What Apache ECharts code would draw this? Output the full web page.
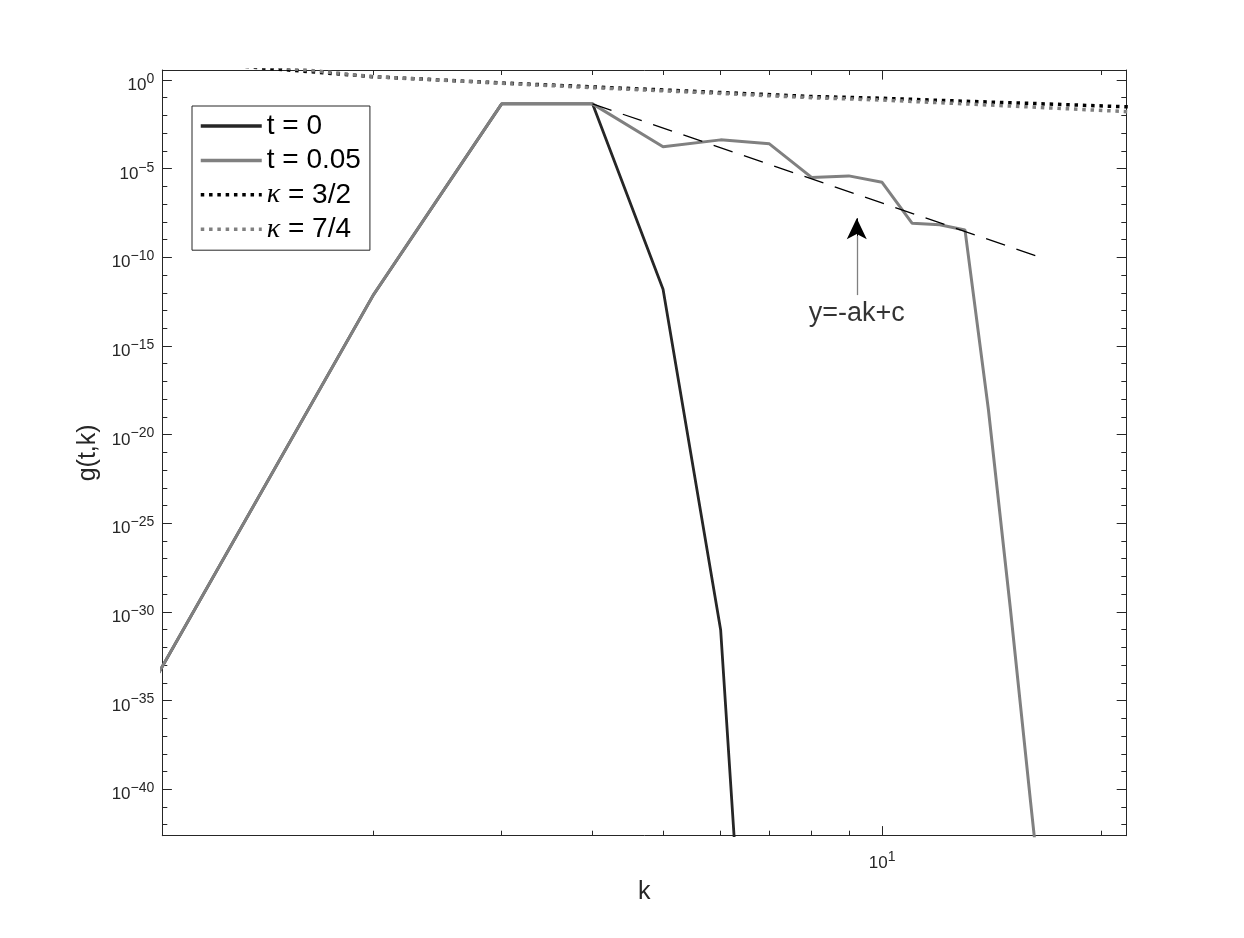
<!DOCTYPE html>
<html>
<head>
<meta charset="utf-8">
<title>g(t,k)</title>
<script src="https://cdn.jsdelivr.net/npm/echarts@6/dist/echarts.min.js"></script>
<style>
  html, body { margin: 0; padding: 0; background: #fff; }
  #chart { width: 1244px; height: 938px; }
</style>
</head>
<body>
<div id="chart"></div>
<script>
  // values
  const kInit = [1, 2, 3, 4, 5, 6, 7]
  const gInit = [1.4e-34, 7.8e-13, 4.5e-2, 4.5e-2, 1.6e-12, 9.5e-32, 6e-74]

  const kLater = [1, 2, 3, 4, 5, 6, 7, 8, 9, 10, 11, 12, 13, 14, 15, 16, 17]
  const gLater = [1.4e-34, 7.8e-13, 4.5e-2, 4.5e-2, 1.7e-4, 4.2e-4, 2.5e-4, 3.2e-6, 3.9e-6,
                  1.7e-6, 8.3e-9, 6.9e-9, 3.5e-9, 2.6e-19, 1.9e-30, 1.9e-41, 1.6e-51]

  const kRef = [1, 1.3, 2, 3, 4, 6, 8, 10, 13, 16, 22]
  const gKappa32 = [14.7, 6.2, 1.53, 0.68, 0.41, 0.197, 0.117, 0.093, 0.063, 0.048, 0.030]
  const gKappa74 = [26, 8.9, 1.53, 0.65, 0.37, 0.174, 0.100, 0.074, 0.045, 0.030, 0.016]

  const kFit = [4, 16.4]
  const gFit = [4.5e-2, 1.1e-10]

  // annotation
  const arrowK = 9.23
  const arrowFrom = 7.4e-13
  const arrowTip = 1.6e-8
  const arrowBase = 1.6e-9
  const noteAt = [9.23, 6.9e-14]
  const noteText = 'y=-ak+c'

  // ticks
  const xMajor = [10]
  const xMinor = [2, 3, 4, 5, 6, 7, 8, 9, 20]
  const yMajor = [1, 1e-5, 1e-10, 1e-15, 1e-20, 1e-25, 1e-30, 1e-35, 1e-40]
  const yMinor = []
  for (let e = -1; e >= -42; e--) {
      if (e % 5 !== 0) yMinor.push(Math.pow(10, e))
  }

  const xMin = 1.025, xMax = 21.66
  const yMin = 2.4e-43, yMax = 3.66

  const font = 'Liberation Sans'
  const axisColor = '#262626'

  const supRich = {
      b: { fontSize: 17, padding: [11, 0, 0, 0], color: axisColor, fontFamily: font },
      s: { fontSize: 14, padding: [6, 0, 0, 0], verticalAlign: 'top', color: axisColor, fontFamily: font }
  }
  const powLabel = v => {
      const e = Math.round(Math.log10(v))
      return '{b|10}{s|' + (e < 0 ? '\u2212' + (-e) : e) + '}'
  }

  function frame(dim, position, values, major, extra) {
      return Object.assign({
          type: 'log',
          logBase: 10,
          position: position,
          min: dim === 'x' ? xMin : yMin,
          max: dim === 'x' ? xMax : yMax,
          axisLine: { show: major, onZero: false, lineStyle: { color: axisColor, width: 1 } },
          axisTick: {
              show: true,
              inside: true,
              length: major ? 9.6 : 5,
              customValues: values,
              lineStyle: { color: axisColor, width: 1 }
          },
          axisLabel: { show: false },
          splitLine: { show: false },
          minorTick: { show: false },
          minorSplitLine: { show: false }
      }, extra || {})
  }

  const chart = echarts.init(document.getElementById('chart'), null, { renderer: 'canvas' })

  const option = {
      animation: false,
      backgroundColor: '#fff',
      textStyle: { fontFamily: font },
      grid: { left: 162.3, top: 70, width: 964, height: 765.7 },
      legend: {
          data: ['t = 0', 't = 0.05', 'κ = 3/2', 'κ = 7/4'],
          orient: 'vertical',
          left: 192,
          top: 106,
          itemWidth: 61,
          itemHeight: 14,
          itemGap: 4.4,
          padding: [5, 9, 6, 7],
          borderColor: axisColor,
          borderWidth: 1,
          backgroundColor: '#fff',
          selectedMode: false,
          itemStyle: { opacity: 0 },
          lineStyle: { width: 3.5 },
          formatter: name => name.indexOf('κ') === 0 ? '{k|κ}' + name.slice(1) : name,
          textStyle: {
              fontSize: 28,
              lineHeight: 30,
              color: '#000',
              fontFamily: font,
              rich: {
                  k: { fontFamily: 'Liberation Serif', fontStyle: 'italic', fontSize: 28, color: '#000' }
              }
          }
      },
      xAxis: [
          frame('x', 'bottom', xMajor, true, {
              axisLabel: { show: true, customValues: xMajor, margin: 8, formatter: powLabel, rich: supRich },
              name: 'k',
              nameLocation: 'middle',
              nameGap: 44,
              nameTextStyle: { fontSize: 25, color: axisColor, fontFamily: font }
          }),
          frame('x', 'bottom', xMinor, false),
          frame('x', 'top', xMajor, true),
          frame('x', 'top', xMinor, false)
      ],
      yAxis: [
          frame('y', 'left', yMajor, true, {
              axisLabel: { show: true, customValues: yMajor, margin: 8, formatter: powLabel, rich: supRich },
              name: 'g(t,k)',
              nameLocation: 'middle',
              nameGap: 60,
              nameTextStyle: { fontSize: 25, color: axisColor, fontFamily: font }
          }),
          frame('y', 'left', yMinor, false),
          frame('y', 'right', yMajor, true),
          frame('y', 'right', yMinor, false)
      ],
      series: [
          {
              name: 't = 0',
              type: 'line',
              symbol: 'none',
              data: kInit.map((k, i) => [k, gInit[i]]),
              lineStyle: { color: '#262626', width: 2.8 },
              itemStyle: { color: '#262626' }
          },
          {
              name: 't = 0.05',
              type: 'line',
              symbol: 'none',
              data: kLater.map((k, i) => [k, gLater[i]]),
              lineStyle: { color: '#808080', width: 3 },
              itemStyle: { color: '#808080' }
          },
          {
              name: 'κ = 3/2',
              type: 'line',
              symbol: 'none',
              data: kRef.map((k, i) => [k, gKappa32[i]]),
              lineStyle: { color: '#000', width: 3.5, type: [3.5, 4.8], cap: 'butt' },
              itemStyle: { color: '#000' }
          },
          {
              name: 'κ = 7/4',
              type: 'line',
              symbol: 'none',
              data: kRef.map((k, i) => [k, gKappa74[i]]),
              lineStyle: { color: '#808080', width: 3.5, type: [3.5, 4.8], cap: 'butt' },
              itemStyle: { color: '#808080' }
          },
          {
              name: 'fit',
              type: 'line',
              symbol: 'none',
              data: kFit.map((k, i) => [k, gFit[i]]),
              lineStyle: { color: '#000', width: 1.3, type: [20, 12] },
              itemStyle: { color: '#000' },
              markLine: {
                  silent: true,
                  symbol: 'none',
                  label: { show: false },
                  animation: false,
                  data: [
                      [
                          { coord: [arrowK, arrowFrom], lineStyle: { color: '#808080', width: 1.3, type: 'solid' } },
                          { coord: [arrowK, arrowBase] }
                      ],
                      [
                          { coord: [arrowK, arrowBase], symbol: 'none', lineStyle: { color: '#000', width: 1, type: 'solid' } },
                          { coord: [arrowK, arrowTip], symbol: 'arrow', symbolSize: [15, 21] }
                      ]
                  ]
              }
          },
          {
              name: 'note',
              type: 'scatter',
              symbolSize: 1,
              itemStyle: { color: 'rgba(0,0,0,0)' },
              data: [noteAt],
              label: {
                  show: true,
                  position: 'inside',
                  formatter: noteText,
                  fontSize: 27,
                  color: '#000',
                  fontFamily: font
              },
              silent: true
          }
      ]
  }

  chart.setOption(option)
</script>
</body>
</html>
